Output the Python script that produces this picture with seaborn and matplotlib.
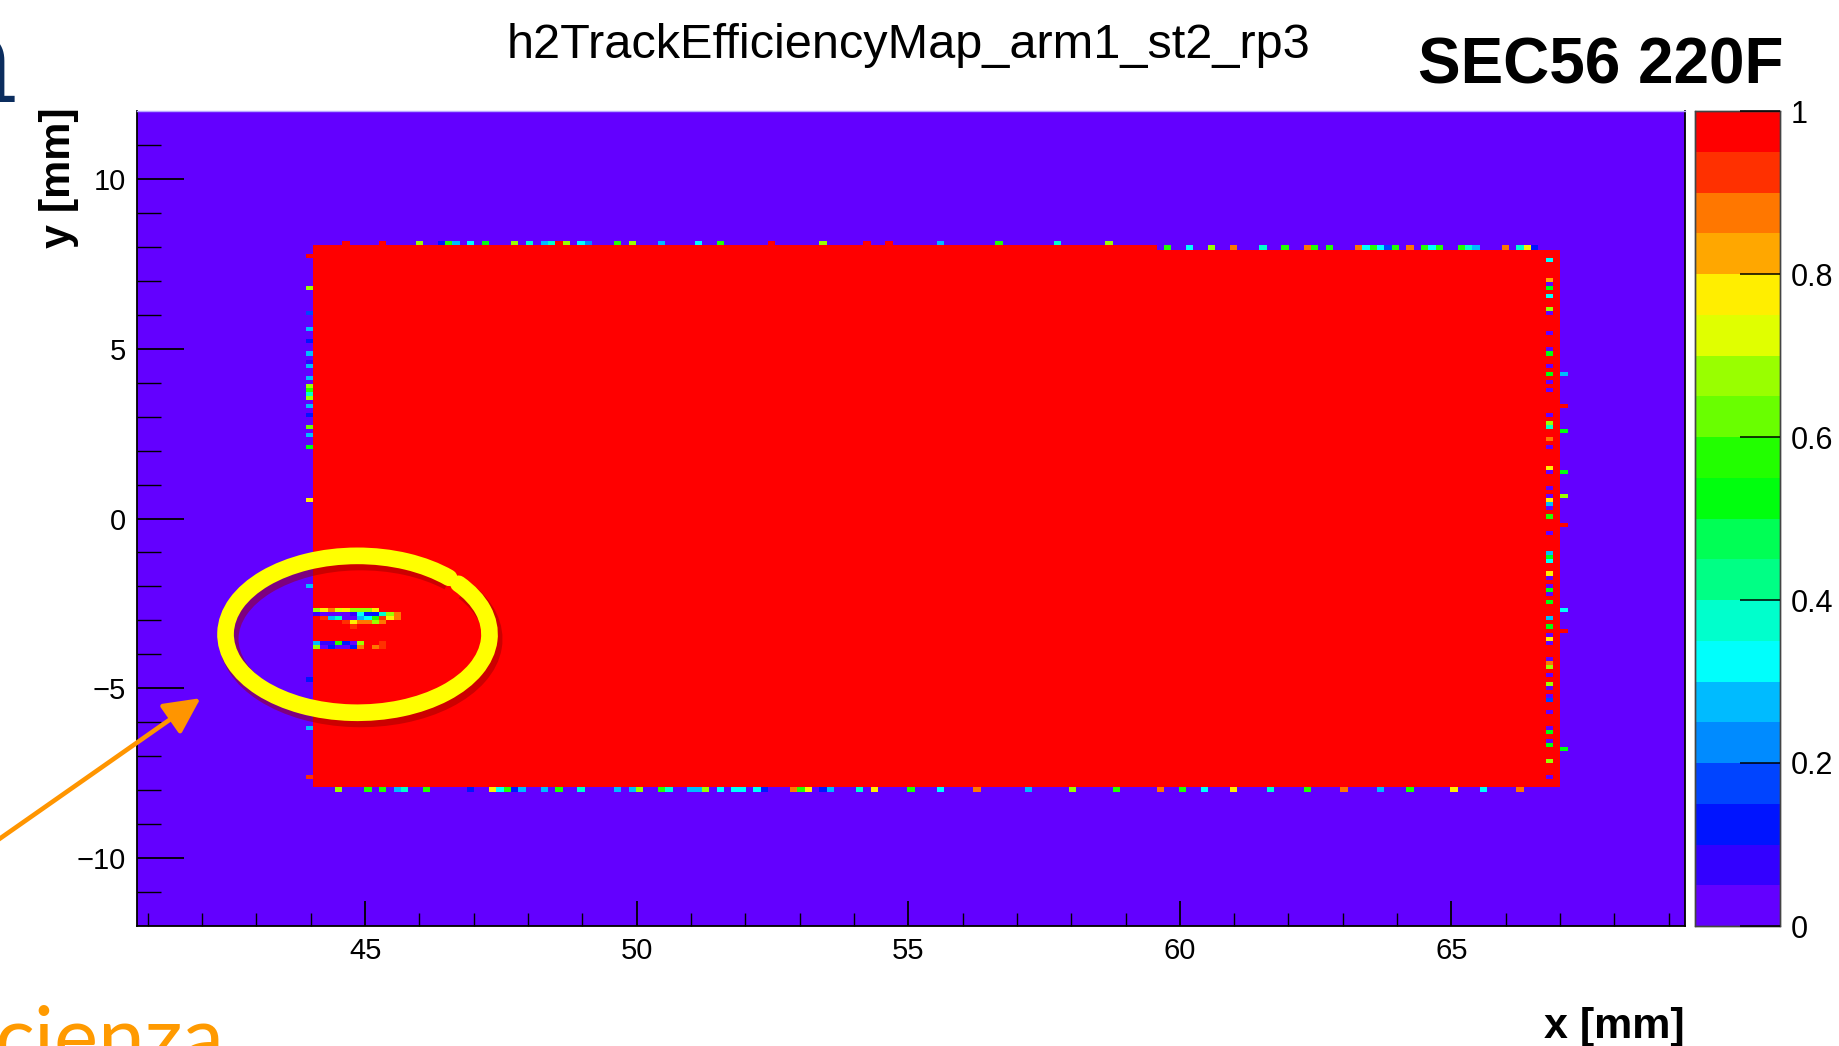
"""
Track efficiency map (ROOT style COLZ) redrawn with seaborn.
"""
import colorsys

import matplotlib
matplotlib.use("Agg")
import matplotlib.pyplot as plt
from matplotlib.colors import ListedColormap
from matplotlib.patches import Arc
import numpy as np
import seaborn as sns

sns.set_theme(style="white")
plt.rcParams['font.family'] = ['Liberation Sans', 'DejaVu Sans']
plt.rcParams['text.color'] = 'black'
plt.rcParams['axes.labelcolor'] = 'black'
plt.rcParams['xtick.color'] = 'black'
plt.rcParams['ytick.color'] = 'black'

# ---------------------------------------------------------------- data ----
TITLE = "h2TrackEfficiencyMap_arm1_st2_rp3"
TAG = "SEC56 220F"

# histogram binning [mm]
X_RANGE = (40.8, 69.3)
Y_RANGE = (-12.0, 12.0)
N_X = 211
N_Y = 200

# fully efficient sensor area [mm]; the top edge steps down at x = 59.6
SENSOR_X = (44.1, 67.0)
SENSOR_STEP_X = 59.6
SENSOR_Y_LEFT = (-7.92, 8.04)
SENSOR_Y_RIGHT = (-7.92, 7.92)

# defects along the top edge (left part, y = 8.06)
top_left_y = 8.06
top_left_x = [44.6, 45.33, 46.0, 46.35, 46.5, 46.6, 46.7, 46.97, 47.2, 47.8,
              48.02, 48.27, 48.4, 48.63, 48.76, 49.0, 49.1, 49.7, 49.94, 50.4,
              51.18, 51.48, 52.52, 53.4, 54.25, 54.61, 55.54, 56.62, 57.7, 58.67]
top_left_eff = [1.0, 1.0, 0.68, 0.12, 0.7, 0.55, 0.27, 0.33, 0.52, 0.68,
                0.37, 0.27, 0.37, 1.0, 0.68, 0.33, 0.2, 0.55, 0.68, 0.27,
                0.33, 0.55, 1.0, 0.68, 1.0, 1.0, 0.27, 0.55, 0.37, 0.68]

# defects along the top edge (right part, y = 7.98)
top_right_y = 7.98
top_right_x = [59.8, 60.2, 60.6, 61.0, 61.5, 61.9, 62.34, 62.49, 62.69, 63.28,
               63.39, 63.5, 63.76, 63.88, 64.01, 64.23, 64.49, 64.62, 64.8,
               65.19, 65.3, 65.5, 66.0, 66.26, 66.35, 66.57]
top_right_eff = [0.55, 0.33, 0.68, 0.85, 0.37, 0.55, 0.85, 0.55, 0.55, 0.85,
                 0.33, 0.55, 0.33, 0.15, 0.55, 0.85, 0.55, 0.33, 0.55,
                 0.55, 0.37, 0.27, 0.85, 0.37, 0.77, 0.1]

# defects along the bottom edge (y = -7.97)
bottom_y = -7.97
bottom_x = [44.47, 45.06, 45.32, 45.58, 45.7, 46.17, 47.0, 47.37, 47.47, 47.62,
            47.72, 47.94, 48.29, 48.56, 48.91, 49.63, 49.85, 49.98, 50.11,
            50.44, 50.57, 50.94, 51.18, 51.29, 51.51, 51.77, 51.99, 52.23,
            52.36, 52.83, 53.07, 53.19, 53.43, 53.61, 54.14, 54.31, 55.0, 55.6,
            56.3, 57.2, 58.0, 58.8, 59.6, 60.1, 60.5, 61.0, 61.7, 62.4, 63.0,
            63.7, 64.3, 65.0, 65.6, 66.2]
bottom_eff = [0.68, 0.55, 0.55, 0.27, 0.37, 0.55, 0.12, 0.77, 0.33, 0.55,
              0.1, 0.27, 0.27, 0.55, 0.37, 0.27, 0.55, 0.27, 0.68,
              0.55, 0.37, 0.27, 0.27, 0.68, 0.33, 0.33, 0.33, 0.33,
              0.12, 0.85, 0.55, 0.77, 0.12, 0.27, 0.37, 0.77, 0.55, 0.33,
              0.85, 0.27, 0.68, 0.55, 0.85, 0.55, 0.33, 0.77, 0.37, 0.55, 0.85,
              0.27, 0.55, 0.77, 0.33, 0.85]

# column just left of the sensor (x = 44.03)
left_x = 44.03
left_y = [7.74, 6.79, 6.06, 5.62, 5.18, 4.88, 4.65, 4.44, 4.09, 3.94, 3.79, 3.7,
          3.59, 3.3, 3.0, 2.7, 2.4, 2.1, 0.56, -1.94, -4.74, -6.15, -7.6]
left_eff = [1.0, 0.68, 0.17, 0.27, 0.12, 0.27, 0.07, 0.27, 0.27, 0.68, 0.55,
            0.37, 0.68, 0.27, 0.12, 0.6, 0.27, 0.5, 0.77, 0.27, 0.12, 0.27, 0.9]

# inefficient column at the right edge of the sensor (x = 66.8)
right_x = 66.8
right_y = [7.64, 7.02, 6.93, 6.79, 6.57, 6.18, 6.04, 5.48, 4.97, 4.88, 4.52,
           4.28, 4.02, 3.79, 3.02, 2.85, 2.74, 2.36, 2.11, 1.52, 1.39, 0.92,
           0.68, 0.55, 0.43, 0.32, 0.04, -0.41, -1.0, -1.14, -1.23, -1.59,
           -1.73, -1.95, -2.08, -2.21, -2.46, -2.92, -3.17, -3.39, -3.53,
           -3.71, -4.09, -4.24, -4.35, -4.58, -4.86, -4.97, -5.22, -5.31,
           -5.68, -6.15, -6.26, -6.55, -6.64, -7.13, -7.62]
right_eff = [0.33, 0.82, 0.0, 0.52, 0.33, 0.68, 0.02, 0.0, 0.0, 0.5, 0.0,
             0.52, 0.0, 0.0, 0.0, 0.68, 0.37, 0.86, 0.0, 0.77, 0.0, 0.0,
             0.0, 0.77, 0.27, 0.0, 0.55, 0.0, 0.27, 0.52, 0.33, 0.77,
             0.0, 0.0, 0.52, 0.0, 0.52, 0.27, 0.52, 0.0, 0.77,
             0.0, 0.0, 0.87, 0.68, 0.0, 0.68, 0.0, 0.0, 0.17,
             0.0, 0.0, 0.52, 0.0, 0.52, 0.68, 0.0]

# isolated cells just outside the right edge (x = 67.07)
outer_x = 67.07
outer_y = [4.28, 3.3, 2.59, 1.39, 0.68, -0.16, -2.68, -3.34, -6.77]
outer_eff = [0.27, 1.0, 0.52, 0.52, 0.65, 1.0, 0.33, 1.0, 0.52]

# inefficient streaks inside the circled area, cells from x = 44.1 rightwards
streak_y = [-2.69, -2.82, -2.94, -3.06, -3.18, -3.64, -3.76]
streak_eff = [
    [0.65, 0.77, 0.85, 0.7, 0.75, 0.68, 0.68, 0.65, 0.77],
    [0.05, 0.0, 0.0, 0.0, 0.0, 0.05, 0.33, 0.12, 0.12, 0.37, 0.68, 0.85],
    [1.0, 0.92, 0.27, 0.37, 0.0, 0.0, 0.27, 0.33, 0.55, 0.92, 0.77, 0.85],
    [1.0, 1.0, 1.0, 1.0, 0.92, 0.77, 0.85, 0.85, 0.68, 0.85],
    [1.0, 1.0, 1.0, 1.0, 1.0, 0.92],
    [0.27, 0.07, 0.07, 0.55, 0.12, 0.0, 0.68, 1.0, 1.0, 0.92],
    [0.68, 0.0, 0.12, 0.0, 0.0, 0.12, 0.85, 1.0, 0.85, 0.92],
]

x_major = [45, 50, 55, 60, 65]
y_major = [-10, -5, 0, 5, 10]
z_ticks = [0, 0.2, 0.4, 0.6, 0.8, 1]
z_labels = ["0", "0.2", "0.4", "0.6", "0.8", "1"]

# ------------------------------------------------------- build the map ----
X0, X1 = X_RANGE
Y0, Y1 = Y_RANGE
DX = (X1 - X0) / N_X
DY = (Y1 - Y0) / N_Y


def ix(x):
    return int(np.floor((x - X0) / DX))


def iy(y):
    return int(np.floor((y - Y0) / DY))


def edge_x(x):
    return int(round((x - X0) / DX))


def edge_y(y):
    return int(round((y - Y0) / DY))


eff = np.zeros((N_Y, N_X))
eff[edge_y(SENSOR_Y_LEFT[0]):edge_y(SENSOR_Y_LEFT[1]),
    edge_x(SENSOR_X[0]):edge_x(SENSOR_STEP_X)] = 1.0
eff[edge_y(SENSOR_Y_RIGHT[0]):edge_y(SENSOR_Y_RIGHT[1]),
    edge_x(SENSOR_STEP_X):edge_x(SENSOR_X[1])] = 1.0

for x, e in zip(top_left_x, top_left_eff):
    eff[iy(top_left_y), ix(x)] = e
for x, e in zip(top_right_x, top_right_eff):
    eff[iy(top_right_y), ix(x)] = e
for x, e in zip(bottom_x, bottom_eff):
    eff[iy(bottom_y), ix(x)] = e
for y, e in zip(left_y, left_eff):
    eff[iy(y), ix(left_x)] = e
for y, e in zip(right_y, right_eff):
    eff[iy(y), ix(right_x)] = e
for y, e in zip(outer_y, outer_eff):
    eff[iy(y), ix(outer_x)] = e
start = edge_x(SENSOR_X[0])
for y, row_vals in zip(streak_y, streak_eff):
    for k, e in enumerate(row_vals):
        eff[iy(y), start + k] = e

# ROOT "pretty" palette sampled with 20 contour levels
palette = []
for k in range(20):
    idx = int((k + 0.99) * 50 / 20)
    hue = max(280 - (idx + 1) * 5.6, 0.0)
    palette.append(colorsys.hls_to_rgb(hue / 360.0, 0.5, 1.0))
root_cmap = ListedColormap(palette)

# ---------------------------------------------------------------- plot ----
W, H = 1839, 1046
fig = plt.figure(figsize=(W / 100, H / 100), dpi=100)
ax = fig.add_axes([137 / W, 1 - 926 / H, (1685 - 137) / W, (926 - 111) / H])
cax = fig.add_axes([1695 / W, 1 - 926 / H, (1780 - 1695) / W, (926 - 111) / H])

# heatmap rows run top-down, so flip the map
sns.heatmap(np.flipud(eff), cmap=root_cmap, vmin=0, vmax=1, ax=ax,
            cbar_ax=cax, xticklabels=False, yticklabels=False,
            linewidths=0, rasterized=True)
ax.set_axisbelow(False)
cax.set_axisbelow(False)


def col(x):
    return (x - X0) / DX


def row(y):
    return (Y1 - y) / DY


x_minor = [v for v in range(41, 70) if v not in x_major]
y_minor = [v for v in range(-11, 12) if v not in y_major]
ax.set_xticks([col(v) for v in x_major])
ax.set_xticklabels([str(v) for v in x_major])
ax.set_xticks([col(v) for v in x_minor], minor=True)
ax.set_yticks([row(v) for v in y_major])
ax.set_yticklabels([f"{v}".replace("-", "\u2212") for v in y_major])
ax.set_yticks([row(v) for v in y_minor], minor=True)

ax.tick_params(axis='x', which='major', direction='in', length=18, width=1.3,
               labelsize=21, pad=8, colors='black', bottom=True)
ax.tick_params(axis='x', which='minor', direction='in', length=9.5, width=1.0,
               bottom=True, colors='black')
ax.tick_params(axis='y', which='major', direction='in', length=34, width=1.3,
               labelsize=21, pad=8, colors='black', left=True)
ax.tick_params(axis='y', which='minor', direction='in', length=17, width=1.0,
               left=True, colors='black')
plt.setp(ax.get_yticklabels(), rotation=0)
plt.setp(ax.get_xticklabels(), rotation=0)

for side in ['left', 'bottom', 'right']:
    ax.spines[side].set_visible(True)
    ax.spines[side].set_color('black')
    ax.spines[side].set_linewidth(1.3)
ax.spines['top'].set_visible(True)
ax.spines['top'].set_color('#b8a8ff')
ax.spines['top'].set_linewidth(1.0)

# colour bar
cax.set_yticks(z_ticks)
cax.set_yticklabels(z_labels)
cax.tick_params(axis='y', which='major', direction='in', length=29, width=1.1,
                labelsize=22, pad=8, right=True, left=False, colors='black')
cax.minorticks_off()
for spine in cax.spines.values():
    spine.set_visible(True)
    spine.set_color('#444444')
    spine.set_linewidth(1.0)

# texts
fig.text(909 / W, 1 - 46 / H, TITLE, ha='center', va='center', fontsize=35)
fig.text(1783 / W, 1 - 67 / H, TAG, ha='right', va='center', fontsize=46,
         fontweight='bold')
fig.text(59 / W, 1 - 107 / H, "y [mm]", rotation=90, ha='center', va='top',
         fontsize=31, fontweight='bold')
fig.text(1685 / W, 1 - 1027 / H, "x [mm]", ha='right', va='center',
         fontsize=31, fontweight='bold')

# slide decorations (cropped words of the surrounding slide)
fig.text(18 / W, 1 - 102 / H, "a", ha='right', va='baseline', fontsize=92,
         color='#0b2d5e', family=['DejaVu Serif'])
fig.text(-6 / W, 1 - 1066 / H, "cienza", ha='left', va='baseline', fontsize=60,
         color='#ff9a00', family=['Lato', 'DejaVu Sans'])

# highlight of the inefficient region
ring_x, ring_y = 44.86, -3.41
ring_w, ring_h = 4.86, 4.62
shadow = Arc((col(ring_x + 0.06), row(ring_y - 0.14)), ring_w / DX, ring_h / DY,
             theta1=-40, theta2=310, color='#9a0000', lw=14, alpha=0.5,
             zorder=5)
ax.add_patch(shadow)
ring = Arc((col(ring_x), row(ring_y)), ring_w / DX, ring_h / DY,
           theta1=-42, theta2=312, color='#ffff00', lw=12, zorder=6,
           capstyle='round')
ax.add_patch(ring)

ax.annotate('', xy=(col(41.97), row(-5.29)), xycoords='data',
            xytext=(-5 / W, 1 - 842 / H), textcoords='figure fraction',
            arrowprops=dict(arrowstyle='-|>,head_length=1.1,head_width=0.55',
                            color='#ff9500', lw=3.3, mutation_scale=20,
                            shrinkA=0, shrinkB=0),
            annotation_clip=False)

plt.savefig("out.png", dpi=100)
plt.close()
